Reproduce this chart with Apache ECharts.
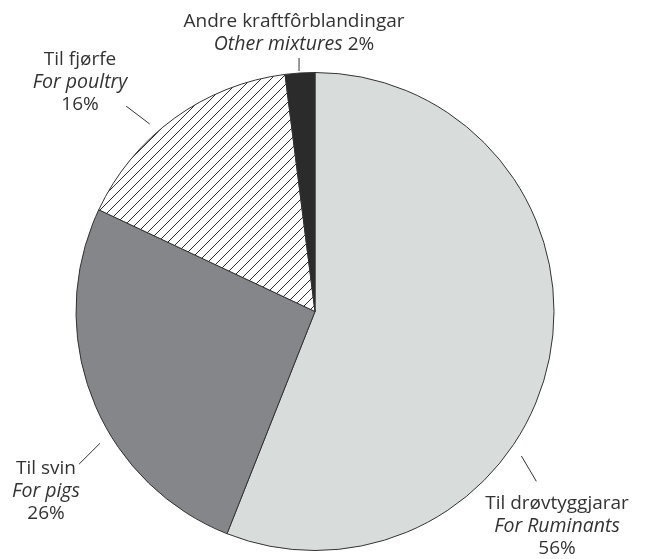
<!DOCTYPE html>
<html>
<head>
    <meta charset="utf-8">
    <title>Kraftfôr</title>
    <script src="https://cdn.jsdelivr.net/npm/echarts@6/dist/echarts.min.js"></script>
    <style>
        html, body { margin: 0; padding: 0; background: #fff; }
    </style>
</head>
<body>
    <div id="pieChart" style="width: 646px;height:559px;"></div>
    <script type="text/javascript">
        // data
        var namesNo = ['Til drøvtyggjarar', 'Til svin', 'Til fjørfe', 'Andre kraftfôrblandingar'];
        var namesEn = ['For Ruminants', 'For pigs', 'For poultry', 'Other mixtures'];
        var shares = [56, 26, 16, 2];

        // pie geometry
        var cx = 315, cy = 311.5, R = 239;

        // label placement (centre x, middle y) and leader lines [angle1, r1, angle2, r2], clockwise from top
        var labelSpots = [[557, 526], [46, 491], [80, 82], [294, 33]];
        var leaders = [[125, 252, 127.5, 279], [238.5, 252, 237.1, 281], [318.6, 250, 317.4, 279], [356.2, 241, 356.4, 254]];

        function polar(a, r) {
            var t = a * Math.PI / 180;
            return [cx + r * Math.sin(t), cy - r * Math.cos(t)];
        }

        // hatch for poultry
        var hatch = document.createElement('canvas');
        hatch.width = 10;
        hatch.height = 10;
        var hc = hatch.getContext('2d');
        hc.fillStyle = '#ffffff';
        hc.fillRect(0, 0, 10, 10);
        hc.strokeStyle = '#2e2e2e';
        hc.lineWidth = 1;
        hc.beginPath();
        hc.moveTo(-1, 11); hc.lineTo(11, -1);
        hc.moveTo(-1, 1); hc.lineTo(1, -1);
        hc.moveTo(9, 11); hc.lineTo(11, 9);
        hc.stroke();

        var fills = ['#d8dddc', '#858689', { image: hatch, repeat: 'repeat' }, '#2b2b2b'];

        var myChart = echarts.init(document.getElementById('pieChart'));

        var pieData = shares.map(function (v, i) {
            var txt = i === 3
                ? '{n|' + namesNo[i] + '}\n{e|' + namesEn[i] + '}{n| ' + v + '%}'
                : '{n|' + namesNo[i] + '}\n{e|' + namesEn[i] + '}\n{n|' + v + '%}';
            return {
                value: v,
                name: namesEn[i],
                itemStyle: { color: fills[i] },
                label: { formatter: txt }
            };
        });

        var option = {
            animation: false,
            series: [
                {
                    type: 'pie',
                    center: [cx, cy],
                    radius: [0, R],
                    startAngle: 90,
                    clockwise: true,
                    data: pieData,
                    itemStyle: {
                        borderColor: '#333333',
                        borderWidth: 1
                    },
                    label: {
                        show: true,
                        position: 'outside',
                        align: 'center',
                        overflow: 'none',
                        color: '#333333',
                        rich: {
                            n: { fontFamily: 'Open Sans', fontSize: 19, lineHeight: 22.5, color: '#333333' },
                            e: { fontFamily: 'Open Sans', fontSize: 19.5, lineHeight: 22.5, fontStyle: 'italic', color: '#333333' }
                        }
                    },
                    labelLine: {
                        show: true,
                        length: 10,
                        length2: 0,
                        lineStyle: { color: '#333333', width: 1 }
                    },
                    labelLayout: function (params) {
                        var i = params.dataIndex;
                        var p = labelSpots[i];
                        var l = leaders[i];
                        var a = polar(l[0], l[1]);
                        var b = polar(l[2], l[3]);
                        return {
                            x: p[0],
                            y: p[1],
                            align: 'center',
                            verticalAlign: 'middle',
                            labelLinePoints: [a, b, b]
                        };
                    }
                }
            ]
        };

        myChart.setOption(option);
    </script>
</body>
</html>
